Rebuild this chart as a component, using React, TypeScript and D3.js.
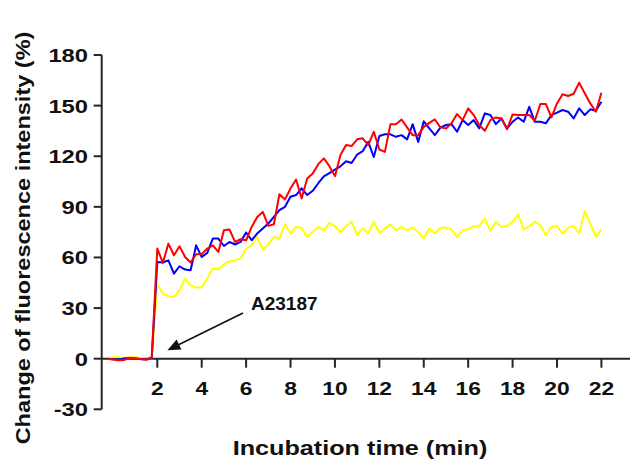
import React from "react";
import * as d3 from "d3";

// time grid: one reading every 15 s, from -0.25 min to 22 min
const times: number[] = d3.range(-0.25, 22.001, 0.25);

const baselineRed = [0, -0.5, -1, -0.8, 0.5, 0.3, -0.3, -0.5, 0.8];
const baselineBlue = [0, -0.3, -0.6, 0.2, 0.3, 0.1, -0.2, -0.5, 0.2];
const baselineYellow = [0, 0.8, 1, 0.3, 0.8, 1, 0.4, -0.8, 0.3];

const redAfter = [
  65.3, 56.8, 68.2, 61.3, 66.6, 60.3, 57, 61.9, 62, 65.3, 67.2, 63.3,
  76.1, 76.6, 69.2, 70.8, 70.2, 78.1, 84, 87, 78.7, 79.7, 97.5, 94.4,
  100.9, 106.2, 95, 106.8, 109.8, 115.3, 118.7, 114.1, 108.2, 120.7, 126.6, 126,
  130, 130.6, 126.6, 134.5, 124, 122.6, 139, 138.9, 141.8, 137.1, 132.5, 132.5,
  137.4, 139.8, 141.8, 137.1, 136.5, 139.5, 145, 141.4, 148.4, 144.4, 138.5, 135.1,
  141.4, 143, 142.4, 135.9, 144.8, 144.4, 144.4, 144.4, 141, 150.9, 150.9, 143,
  151.3, 156.7, 155.7, 157, 163.6, 157.3, 151.3, 146.4, 157.6,
];
const blueAfter = [
  57.3, 57, 58.3, 50.4, 54.8, 52.8, 52.4, 67.2, 60.3, 62.7, 71.2, 71.2,
  66.8, 69.2, 67.7, 69.2, 74.8, 70.2, 74.2, 77.2, 80.1, 84, 88, 90,
  96, 97, 101, 97, 99.5, 104, 108, 110, 112, 114, 117, 116,
  121, 123, 128.5, 119.5, 132, 133, 133, 131.5, 132.5, 130, 139, 128.5,
  140.7, 136.5, 132.5, 137, 138.5, 139, 134.5, 141.4, 138.5, 141.4, 136.5, 145.4,
  144.4, 139, 142.4, 136.5, 140.4, 143, 140.4, 149.3, 140.4, 140.4, 139.5, 144.4,
  145.8, 147.4, 146.4, 142.4, 148.4, 144.4, 147.8, 146.9, 152.3,
];
const yellowAfter = [
  44.1, 38.6, 37, 36.6, 40.5, 47.5, 43.5, 42.1, 42.5, 47.5, 53.4, 52.8,
  56, 57.7, 58.3, 59.3, 65.3, 67.2, 72.2, 64.7, 67.8, 72.2, 71.2, 79.7,
  74.2, 78.1, 77.5, 72.2, 75.1, 78.1, 76.1, 80.5, 78.5, 75.1, 78.5, 81.1,
  73.2, 77.2, 74.5, 81.1, 74.5, 77.2, 79.5, 76.1, 78.1, 76.1, 77.7, 75.1,
  71.2, 77.2, 74.2, 77.5, 77.7, 76.6, 72.2, 76.1, 76.7, 78.5, 78.7, 83.1,
  75.7, 81.1, 78.1, 78.7, 81.1, 85.6, 76.6, 78.5, 81.1, 79.1, 73.2, 78.1,
  78.7, 74.2, 77.7, 78.7, 74.2, 87.4, 80.1, 72.2, 76.6,
];

const redValues = [...baselineRed, ...redAfter];
const blueValues = [...baselineBlue, ...blueAfter];
const yellowValues = [...baselineYellow, ...yellowAfter];

const xTicks = [2, 4, 6, 8, 10, 12, 14, 16, 18, 20, 22];
const yTicks = [-30, 0, 30, 60, 90, 120, 150, 180];

const xTitle = "Incubation time (min)";
const yTitle = "Change of fluorescence intensity (%)";
const annotation = "A23187";
const annotationTime = 2.5;
const annotationValue = 5;

const W = 635;
const H = 463;

export default function App() {
  const x = d3.scaleLinear().domain([2, 22]).range([157.3, 601.4]);
  const y = d3.scaleLinear().domain([-30, 180]).range([409.3, 55]);
  const axisX = 101.7;
  const axisRight = 630;
  const y0 = y(0);

  const line = d3
    .line<number>()
    .x((_, i) => x(times[i]))
    .y((v) => y(v));

  const series = [
    { values: yellowValues, color: "#ffff00" },
    { values: blueValues, color: "#0000ff" },
    { values: redValues, color: "#ff0000" },
  ];

  const font = "'Liberation Sans', Arial, sans-serif";
  const axisColor = "#262626";

  const tipX = x(annotationTime) - 1;
  const tipY = y(annotationValue);
  const startX = 243;
  const startY = 313;
  const ang = Math.atan2(tipY - startY, tipX - startX);
  const headLen = 13;
  const headW = 5.5;
  const bx = tipX - headLen * Math.cos(ang);
  const by = tipY - headLen * Math.sin(ang);
  const px = -Math.sin(ang);
  const py = Math.cos(ang);

  return (
    <svg
      width={W}
      height={H}
      style={{ position: "absolute", left: 0, top: 0, background: "#fff" }}
    >
      {/* axes */}
      <line x1={axisX} x2={axisX} y1={y(180)} y2={y(-30)} stroke={axisColor} strokeWidth={2} />
      <line x1={axisX} x2={axisRight} y1={y0} y2={y0} stroke={axisColor} strokeWidth={2} />
      {yTicks.map((t) => (
        <g key={"y" + t}>
          <line x1={axisX - 8} x2={axisX} y1={y(t)} y2={y(t)} stroke={axisColor} strokeWidth={2} />
          <text
            transform={`translate(88,${y(t) + 7}) scale(1.25,1)`}
            textAnchor="end"
            fontFamily={font}
            fontWeight="bold"
            fontSize={19}
            fill="#111"
          >
            {t}
          </text>
        </g>
      ))}
      {xTicks.map((t) => (
        <g key={"x" + t}>
          <line x1={x(t)} x2={x(t)} y1={y0} y2={y0 + 9} stroke={axisColor} strokeWidth={2} />
          <text
            transform={`translate(${x(t)},${y0 + 36}) scale(1.2,1)`}
            textAnchor="middle"
            fontFamily={font}
            fontWeight="bold"
            fontSize={19}
            fill="#111"
          >
            {t}
          </text>
        </g>
      ))}
      {/* series */}
      {series.map((s) => (
        <path
          key={s.color}
          d={line(s.values) || ""}
          fill="none"
          stroke={s.color}
          strokeWidth={2}
          strokeLinejoin="round"
        />
      ))}
      {/* annotation */}
      <line x1={startX} y1={startY} x2={bx} y2={by} stroke="#111" strokeWidth={1.6} />
      <path
        d={`M${tipX},${tipY}L${bx + px * headW},${by + py * headW}L${bx - px * headW},${by - py * headW}Z`}
        fill="#111"
      />
      <text x={251} y={310} fontFamily={font} fontWeight="bold" fontSize={19} fill="#111">
        {annotation}
      </text>
      {/* titles */}
      <text
        transform={`translate(360,455) scale(1.2,1)`}
        textAnchor="middle"
        fontFamily={font}
        fontWeight="bold"
        fontSize={21}
        fill="#111"
      >
        {xTitle}
      </text>
      <text
        transform={`translate(30,238) rotate(-90) scale(1.12,1)`}
        textAnchor="middle"
        fontFamily={font}
        fontWeight="bold"
        fontSize={21}
        fill="#111"
      >
        {yTitle}
      </text>
    </svg>
  );
}
